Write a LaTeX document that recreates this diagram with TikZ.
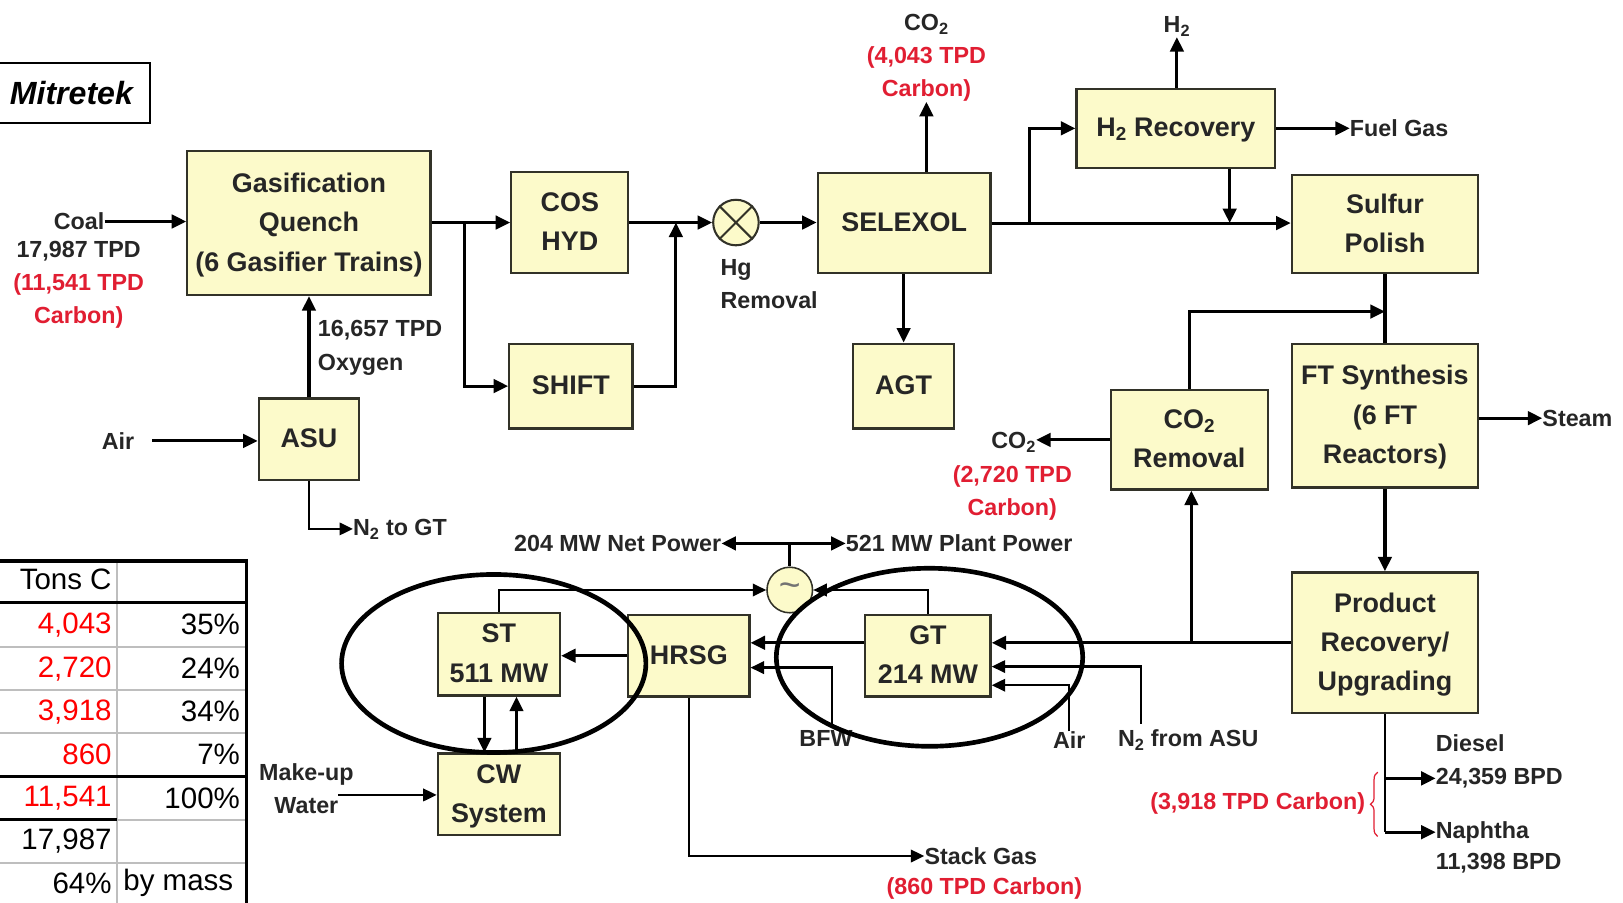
\documentclass[tikz,border=0pt]{standalone}
\usepackage{fontspec}
\setmainfont{Liberation Sans}
\usetikzlibrary{arrows.meta,shapes.geometric,decorations.pathreplacing}
\definecolor{boxfill}{RGB}{252,250,202}
\definecolor{dred}{RGB}{225,30,50}
\definecolor{tred}{RGB}{255,0,0}
\definecolor{edgec}{RGB}{50,50,40}
\definecolor{tgray}{RGB}{190,190,190}
\newcommand{\boxfont}{\fontsize{26}{38}\selectfont\bfseries}
\newcommand{\labfont}{\fontsize{22.5}{32}\selectfont\bfseries}
\newcommand{\tabfont}{\fontsize{28.5}{34}\selectfont}
\newcommand{\subtwo}{\textsubscript{2}}
\begin{document}
\begin{tikzpicture}[x=1pt,y=-1pt,
  proc/.style={draw=edgec, fill=boxfill, line width=2.2pt, inner sep=0pt, align=center, font=\boxfont, text=black!85, text depth=2pt},
  lab/.style={inner sep=0pt, align=center, font=\labfont, text=black!85},
  redlab/.style={lab, text=dred},
  arr/.style={line width=3pt, -{Triangle[length=14pt,width=13pt]}},
  arrthin/.style={line width=2.2pt, -{Triangle[length=13pt,width=12pt]}},
  ln/.style={line width=3pt},
  tcell/.style={inner sep=0pt, font=\tabfont},
]
\useasboundingbox (0,0) rectangle (1568,872);
\fill[white] (0,0) rectangle (1568,872);

% title
\node[draw, line width=2pt, minimum width=152pt, minimum height=58pt, inner sep=0pt,
      font=\fontsize{31}{31}\selectfont\bfseries\itshape] (mit) at (69,90) {Mitretek};

% process boxes
\node[proc, minimum width=235pt, minimum height=139pt] (gas) at (298.5,215.5) {Gasification\\Quench\\(6 Gasifier Trains)};
\node[proc, minimum width=113pt, minimum height=98pt] (cos) at (550.5,215) {COS\\HYD};
\node[proc, minimum width=119pt, minimum height=82pt] (shift) at (551.5,373) {SHIFT};
\node[proc, minimum width=97pt, minimum height=79pt] (asu) at (298.5,424.5) {ASU};
\node[proc, minimum width=167pt, minimum height=97pt] (sel) at (873.5,215.5) {SELEXOL};
\node[proc, minimum width=98pt, minimum height=82pt] (agt) at (873,373) {AGT};
\node[proc, minimum width=192pt, minimum height=76pt] (h2r) at (1136,124) {H\subtwo{} Recovery};
\node[proc, minimum width=180pt, minimum height=95pt] (sp) at (1338,216.5) {Sulfur\\Polish};
\node[proc, minimum width=180pt, minimum height=139pt] (ft) at (1338,401.5) {FT Synthesis\\(6 FT\\Reactors)};
\node[proc, minimum width=152pt, minimum height=96pt] (co2r) at (1149,425) {CO\subtwo\\Removal};
\node[proc, minimum width=180pt, minimum height=136pt] (pr) at (1338,621) {Product\\Recovery/\\Upgrading};
\node[proc, minimum width=118pt, minimum height=80pt] (st) at (482,632) {ST\\511 MW};
\node[proc, minimum width=118pt, minimum height=79pt] (cw) at (482,767.5) {CW\\System};
\node[proc, minimum width=117pt, minimum height=79pt] (hrsg) at (665.5,633.5) {HRSG};
\node[proc, minimum width=121pt, minimum height=79pt] (gt) at (896.5,633.5) {GT\\214 MW};

% round items
\node[circle, draw=edgec, fill=boxfill, line width=2pt, minimum size=44pt, inner sep=0pt] (hg) at (711,215) {};
\draw[line width=2pt, edgec] (hg.north west) -- (hg.south east) (hg.north east) -- (hg.south west);
\node[circle, draw=edgec, fill=boxfill, line width=1.5pt, minimum size=44pt, inner sep=0pt,
      font=\fontsize{36}{36}\selectfont, text=black!55] (gen) at (763,570) {\textasciitilde};

% labels
\node[lab, anchor=east] (coal) at (101,214) {Coal};
\node[lab] (coalq) at (76,275) {17,987 TPD\\\textcolor{dred}{(11,541 TPD}\\\textcolor{dred}{Carbon)}};
\node[lab, anchor=west, align=left] (oxy) at (307,336) {16,657 TPD\\Oxygen};
\node[lab] (airl) at (114,426) {Air};
\coordinate (airs) at (147,426);
\node[lab, anchor=west] (n2gt) at (341,511) {N\subtwo{} to GT};
\node[lab] (co2a) at (895,56) {CO\subtwo\\\textcolor{dred}{(4,043 TPD}\\\textcolor{dred}{Carbon)}};
\node[lab, anchor=west, align=left] (hgl) at (696,274.5) {Hg\\Removal};
\node[lab] (h2l) at (1137,26) {H\subtwo};
\node[lab, anchor=west] (fuel) at (1304,124) {Fuel Gas};
\node[lab, anchor=west] (steam) at (1490,404) {Steam};
\node[lab, anchor=east] (co2b) at (1001,427) {CO\subtwo};
\node[redlab] (co2bc) at (978,476) {(2,720 TPD\\Carbon)};
\node[lab, anchor=east] (netp) at (697,525) {204 MW Net Power};
\node[lab, anchor=west] (plantp) at (817,525) {521 MW Plant Power};
\node[lab] (mkw) at (296,762) {Make-up\\Water};
\coordinate (mkwe) at (327,768);
\node[lab] (bfw) at (798,713) {BFW};
\coordinate (bfwtop) at (804,699);
\node[lab] (airg) at (1033,715) {Air};
\node[lab, anchor=west] (n2asu) at (1080,715) {N\subtwo{} from ASU};
\coordinate (n2top) at (1102,699);
\node[lab, anchor=west] (stack) at (893,827) {Stack Gas};
\node[redlab] (stackc) at (951,858) {(860 TPD Carbon)};
\node[lab, anchor=west] (dsll) at (1387,718) {Diesel};
\node[lab, anchor=west] (dsl) at (1387,752) {24,359 BPD};
\node[lab, anchor=west] (nap) at (1387,804) {Naphtha};
\node[lab, anchor=west] (napq) at (1387,834) {11,398 BPD};
\node[redlab, anchor=east] (c3918) at (1319,776) {(3,918 TPD Carbon)};
\draw[dred, line width=1.2pt, decorate, decoration={brace, amplitude=7pt}] (1331,808) -- (1331,746);

% junction coordinates
\coordinate (jg) at (449,215);
\coordinate (js) at (653,215);
\coordinate (jh) at (995,215.5);
\coordinate (jh2) at (1188,215.5);
\coordinate (jsp) at (1338,301);
\coordinate (jco) at (1151,621);
\coordinate (jp) at (763,525);
\coordinate (yn2) at (0,644);
\coordinate (yair) at (0,662);
\coordinate (ybfw) at (0,645);
\coordinate (a1) at (468,0);
\coordinate (a2) at (499,0);

% connectors - upper train
\draw[arr] (coal.east) -- (coal.east -| gas.west);
\draw[arr] (gas.east |- cos.west) -- (cos.west);
\draw[arr] (jg) |- (shift.west);
\draw[arr] (shift.east) -| (js);
\draw[arr] (cos.east) -- (hg.west);
\draw[arr] (hg.east) -- (hg.east -| sel.west);
\draw[arr] (sel.north -| co2a.south) -- (co2a.south);
\draw[arr] (sel.south -| agt.north) -- (agt.north);
\draw[arr] (sel.east) -- (sel.east -| sp.west);
\draw[arr] (jh) |- (h2r.west);
\draw[arr] (h2r.north -| h2l.south) -- (h2l.south);
\draw[arr] (h2r.east) -- (fuel.west);
\draw[arr] (h2r.south -| jh2) -- (jh2);
\draw[ln] (sp.south) -- (ft.north);
\draw[arr] (co2r.north) |- (jsp);
\draw[arr] (co2r.west) -- (co2r.west -| co2b.east);
\draw[arr] (ft.east |- steam.west) -- (steam.west);
\draw[arr] (ft.south) -- (pr.north);

% ASU
\draw[arr] (airs) -- (airs -| asu.west);
\draw[arr] (asu.north) -- (asu.north |- gas.south);
\draw[arrthin] (asu.south) |- (n2gt.west);

% power block
\draw[arr] (pr.west) -- (pr.west -| gt.east);
\draw[arr] (jco) -- (jco |- co2r.south);
\draw[arrthin] (n2top) |- (gt.east |- yn2);
\draw[arrthin] (airg.north) |- (gt.east |- yair);
\draw[arr] (gt.west |- pr.west) -- (hrsg.east |- pr.west);
\draw[arrthin] (bfwtop) |- (hrsg.east |- ybfw);
\draw[arr] (hrsg.west) -- (hrsg.west -| st.east);
\draw[arrthin] (st.north) |- (gen.west);
\draw[arrthin] (gt.north) |- (gen.east);
\draw[ln] (gen.north) -- (jp);
\draw[arr] (jp) -- (netp.east);
\draw[arr] (jp) -- (plantp.west);
\draw[arrthin] (hrsg.south) |- (stack.west);
\draw[arr] (st.south -| a1) -- (cw.north -| a1);
\draw[arr] (cw.north -| a2) -- (st.south -| a2);
\draw[arrthin] (mkwe) -- (mkwe -| cw.west);

% products
\draw[line width=2.5pt] (pr.south) -- (pr.south |- nap.west);
\draw[arr] (pr.south |- dsl.west) -- (dsl.west);
\draw[arr] (pr.south |- nap.west) -- (nap.west);

% highlight ellipses
\draw[line width=4.5pt] (477,641) ellipse [x radius=147pt, y radius=86pt];
\draw[line width=4.5pt] (898,635) ellipse [x radius=148pt, y radius=86pt];

% table
\draw[tgray, line width=2pt] (-5,625) -- (238,625) (-5,667) -- (238,667) (-5,708) -- (238,708) (113,792) -- (238,792) (-5,834) -- (238,834);
\draw[tgray, line width=2pt] (113,542) -- (113,880);
\draw[black, line width=3pt] (-5,542) -- (240,542) (-5,582) -- (238,582) (-5,750) -- (238,750) (-5,792) -- (113,792);
\draw[black, line width=3.5pt] (238,540) -- (238,880);
\node[tcell, anchor=east] (t1) at (108,560) {Tons C};
\node[tcell, anchor=east, text=tred] (t2) at (108,603.5) {4,043};
\node[tcell, anchor=east] (t3) at (232,603.5) {35\%};
\node[tcell, anchor=east, text=tred] (t4) at (108,646) {2,720};
\node[tcell, anchor=east] (t5) at (232,646) {24\%};
\node[tcell, anchor=east, text=tred] (t6) at (108,687.5) {3,918};
\node[tcell, anchor=east] (t7) at (232,687.5) {34\%};
\node[tcell, anchor=east, text=tred] (t8) at (108,729) {860};
\node[tcell, anchor=east] (t9) at (232,729) {7\%};
\node[tcell, anchor=east, text=tred] (t10) at (108,771) {11,541};
\node[tcell, anchor=east] (t11) at (232,771) {100\%};
\node[tcell, anchor=east] (t12) at (108,813) {17,987};
\node[tcell, anchor=east] (t13) at (108,853) {64\%};
\node[tcell, anchor=west] (t14) at (119,853) {by mass};
\end{tikzpicture}
\end{document}
